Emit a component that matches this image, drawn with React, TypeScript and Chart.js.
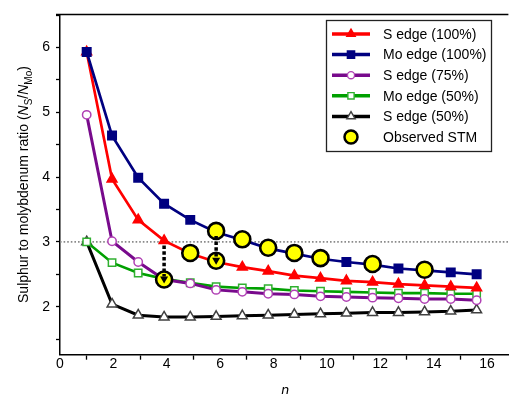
import React, { useEffect, useRef } from 'react';
import { Chart, registerables } from 'chart.js';

Chart.register(...registerables);

// n positions of the computed points
const N = [1, 1.95, 2.93, 3.9, 4.88, 5.85, 6.83, 7.8, 8.78, 9.76, 10.73, 11.71, 12.68, 13.66, 14.64, 15.61];

const S_EDGE_100 = [5.93, 3.97, 3.34, 3.02, 2.82, 2.69, 2.61, 2.55, 2.48, 2.44, 2.4, 2.38, 2.35, 2.33, 2.31, 2.29];
const MO_EDGE_100 = [5.93, 4.64, 3.99, 3.59, 3.34, 3.15, 3.03, 2.9, 2.82, 2.74, 2.69, 2.65, 2.59, 2.56, 2.53, 2.5];
const S_EDGE_75 = [4.96, 3.01, 2.69, 2.42, 2.36, 2.26, 2.23, 2.2, 2.19, 2.16, 2.15, 2.14, 2.13, 2.12, 2.12, 2.1];
const MO_EDGE_50 = [3.0, 2.68, 2.52, 2.43, 2.37, 2.31, 2.29, 2.28, 2.25, 2.24, 2.23, 2.22, 2.21, 2.21, 2.2, 2.2];
const S_EDGE_50 = [3.0, 2.04, 1.87, 1.84, 1.84, 1.85, 1.86, 1.87, 1.88, 1.89, 1.9, 1.91, 1.91, 1.92, 1.93, 1.95];

// Observed STM values
const STM_N = [3.9, 4.88, 5.85, 5.85, 6.83, 7.8, 8.78, 9.76, 11.71, 13.66];
const STM_R = [2.42, 2.83, 3.17, 2.71, 3.04, 2.91, 2.83, 2.75, 2.66, 2.57];

// Arrows: [n, from, to]
const ARROWS: [number, number, number][] = [
  [N[3], S_EDGE_100[3], STM_R[0]],
  [STM_N[2], STM_R[2], STM_R[3]],
];

const REF_RATIO = 3;
const X_MIN = 0;
const X_MAX = 16.8;
const Y_MIN = 1.26;
const Y_MAX = 6.51;
const X_TICKS = [0, 1, 2, 3, 4, 5, 6, 7, 8, 9, 10, 11, 12, 13, 14, 15, 16];
const Y_TICKS = [1.5, 2, 2.5, 3, 3.5, 4, 4.5, 5, 5.5, 6, 6.5];

const FONT = '"Liberation Sans", Arial, Helvetica, sans-serif';

type Series = {
  label: string;
  data: number[];
  line: string;
  stroke: string;
  fill: string;
  style: string;
  radius: number;
  width: number;
};

const SERIES: Series[] = [
  { label: 'S edge (100%)', data: S_EDGE_100, line: '#ff0000', stroke: '#ff0000', fill: '#ff0000', style: 'triangle', radius: 5.7, width: 2.7 },
  { label: 'Mo edge (100%)', data: MO_EDGE_100, line: '#000080', stroke: '#000080', fill: '#000080', style: 'rect', radius: 6, width: 2.7 },
  { label: 'S edge (75%)', data: S_EDGE_75, line: '#780a8c', stroke: '#b040b4', fill: '#ffffff', style: 'circle', radius: 4.2, width: 3 },
  { label: 'Mo edge (50%)', data: MO_EDGE_50, line: '#00a000', stroke: '#30b030', fill: '#ffffff', style: 'rect', radius: 5.2, width: 2.6 },
  { label: 'S edge (50%)', data: S_EDGE_50, line: '#000000', stroke: '#404040', fill: '#ffffff', style: 'triangle', radius: 5.7, width: 3 },
];

const SERIES_ORDER = [3, 2, 4, 5, 6];

function drawMarker(ctx: CanvasRenderingContext2D, style: string, x: number, y: number, r: number, fill: string, stroke: string, lw: number) {
  ctx.save();
  ctx.beginPath();
  if (style === 'triangle') {
    ctx.moveTo(x, y - r);
    ctx.lineTo(x + r * 0.866, y + r * 0.5);
    ctx.lineTo(x - r * 0.866, y + r * 0.5);
    ctx.closePath();
  } else if (style === 'rect') {
    const s = r * Math.SQRT1_2;
    ctx.rect(x - s, y - s, 2 * s, 2 * s);
  } else {
    ctx.arc(x, y, r, 0, Math.PI * 2);
  }
  ctx.fillStyle = fill;
  ctx.fill();
  ctx.lineWidth = lw;
  ctx.strokeStyle = stroke;
  ctx.stroke();
  ctx.restore();
}

const decorPlugin = {
  id: 'decor',
  afterDatasetsDraw(chart: any) {
    const ctx: CanvasRenderingContext2D = chart.ctx;
    const xs = chart.scales.x;
    const ys = chart.scales.y;
    const area = chart.chartArea;

    // top frame
    ctx.save();
    ctx.strokeStyle = '#000';
    ctx.lineWidth = 1.5;
    ctx.beginPath();
    ctx.moveTo(area.left - 4, area.top);
    ctx.lineTo(area.right, area.top);
    ctx.stroke();
    ctx.restore();

    // arrows
    for (const [n, from, to] of ARROWS) {
      const px = xs.getPixelForValue(n);
      const y0 = ys.getPixelForValue(from) + 5;
      const y1 = ys.getPixelForValue(to);
      ctx.save();
      ctx.strokeStyle = '#000';
      ctx.lineWidth = 3.5;
      ctx.setLineDash([3.5, 2.2]);
      ctx.beginPath();
      ctx.moveTo(px, y0);
      ctx.lineTo(px, y1 - 3);
      ctx.stroke();
      ctx.setLineDash([]);
      ctx.fillStyle = '#000';
      ctx.beginPath();
      ctx.moveTo(px - 4, y1 - 3);
      ctx.lineTo(px + 4, y1 - 3);
      ctx.lineTo(px, y1 + 4);
      ctx.closePath();
      ctx.fill();
      ctx.restore();
    }

    // legend
    const lx = 326.5, ly = 20.5, lw = 165, lh = 131;
    ctx.save();
    ctx.fillStyle = '#fff';
    ctx.fillRect(lx, ly, lw, lh);
    ctx.strokeStyle = '#222';
    ctx.lineWidth = 1.3;
    ctx.strokeRect(lx, ly, lw, lh);
    ctx.font = '14px ' + FONT;
    ctx.textBaseline = 'middle';
    ctx.textAlign = 'left';
    const rowY = (i: number) => 34 + i * 20.6;
    SERIES.forEach((s, i) => {
      const y = rowY(i);
      ctx.strokeStyle = s.line;
      ctx.lineWidth = 3.5;
      ctx.beginPath();
      ctx.moveTo(332, y);
      ctx.lineTo(370, y);
      ctx.stroke();
      drawMarker(ctx, s.style, 351, y, s.radius * 0.85, s.fill, s.stroke, 1.4);
      ctx.fillStyle = '#000';
      ctx.fillText(s.label, 383, y + 1);
    });
    const yy = rowY(5);
    drawMarker(ctx, 'circle', 351, yy, 6.5, '#ffff00', '#000', 2.5);
    ctx.fillStyle = '#000';
    ctx.fillText('Observed STM', 383, yy + 1);
    ctx.restore();

    // axis titles
    ctx.save();
    ctx.fillStyle = '#000';
    ctx.font = 'italic 14px ' + FONT;
    ctx.textAlign = 'center';
    ctx.textBaseline = 'alphabetic';
    ctx.fillText('n', (area.left + area.right) / 2 + 1, 395);
    ctx.restore();

    ctx.save();
    ctx.translate(28, (area.top + area.bottom) / 2);
    ctx.rotate(-Math.PI / 2);
    ctx.fillStyle = '#000';
    ctx.textBaseline = 'alphabetic';
    ctx.textAlign = 'left';
    const parts: [string, string, number][] = [
      ['Sulphur to molybdenum ratio (', '14px ' + FONT, 0],
      ['N', 'italic 14px ' + FONT, 0],
      ['S', '10px ' + FONT, 3.5],
      ['/', '14px ' + FONT, 0],
      ['N', 'italic 14px ' + FONT, 0],
      ['Mo', '10px ' + FONT, 3.5],
      [')', '14px ' + FONT, 0],
    ];
    let total = 0;
    for (const [t, f] of parts) {
      ctx.font = f;
      total += ctx.measureText(t).width;
    }
    let cx = -total / 2;
    for (const [t, f, dy] of parts) {
      ctx.font = f;
      ctx.fillText(t, cx, dy);
      cx += ctx.measureText(t).width;
    }
    ctx.restore();
  },
};

export default function App() {
  const ref = useRef<HTMLCanvasElement | null>(null);

  useEffect(() => {
    if (!ref.current) return;
    const lineSets = SERIES.map((s, i) => ({
      label: s.label,
      data: N.map((n, k) => ({ x: n, y: s.data[k] })),
      showLine: true,
      borderColor: s.line,
      borderWidth: s.width,
      pointStyle: s.style,
      pointRadius: s.radius,
      pointBackgroundColor: s.fill,
      pointBorderColor: s.stroke,
      pointBorderWidth: 1.5,
      order: SERIES_ORDER[i],
    }));
    const chart = new Chart(ref.current, {
      type: 'scatter',
      data: {
        datasets: [
          {
            label: 'ref',
            data: [{ x: X_MIN, y: REF_RATIO }, { x: X_MAX, y: REF_RATIO }],
            showLine: true,
            borderColor: '#8a8a8a',
            borderWidth: 1.6,
            borderDash: [1.6, 2],
            pointRadius: 0,
            order: 7,
          },
          ...lineSets,
          {
            label: 'Observed STM',
            data: STM_N.map((n, k) => ({ x: n, y: STM_R[k] })),
            showLine: false,
            pointStyle: 'circle',
            pointRadius: 8,
            pointBackgroundColor: '#ffff00',
            pointBorderColor: '#000',
            pointBorderWidth: 2.6,
            order: 1,
          },
        ] as any,
      },
      options: {
        animation: false,
        responsive: false,
        devicePixelRatio: 1,
        layout: { padding: { top: 9, right: 0, left: 0, bottom: 0 } },
        plugins: { legend: { display: false }, tooltip: { enabled: false }, title: { display: false } },
        scales: {
          x: {
            type: 'linear',
            min: X_MIN,
            max: X_MAX,
            afterBuildTicks: (scale: any) => {
              scale.ticks = X_TICKS.map((v) => ({ value: v }));
            },
            afterFit: (scale: any) => {
              scale.height = 39.3;
            },
            grid: {
              drawOnChartArea: false,
              drawTicks: true,
              tickLength: 5,
              color: '#000',
              tickColor: (c: any) => (c.tick && c.tick.value % 2 === 0 ? 'rgba(0,0,0,0)' : '#000'),
              tickWidth: 1.3,
            },
            border: { display: true, color: '#000', width: 1.5 },
            ticks: {
              autoSkip: false,
              maxRotation: 0,
              padding: -4,
              color: '#000',
              font: { family: FONT, size: 14 },
              callback: (v: any) => (Number(v) % 2 === 0 ? String(v) : ''),
            },
          },
          y: {
            type: 'linear',
            min: Y_MIN,
            max: Y_MAX,
            afterBuildTicks: (scale: any) => {
              scale.ticks = Y_TICKS.map((v) => ({ value: v }));
            },
            afterFit: (scale: any) => {
              scale.width = 60;
            },
            grid: { drawOnChartArea: false, drawTicks: true, tickLength: 4, color: '#000', tickWidth: 1.3 },
            border: { display: true, color: '#000', width: 1.5 },
            ticks: {
              autoSkip: false,
              padding: 6,
              color: '#000',
              font: { family: FONT, size: 14 },
              callback: (v: any) => (Number.isInteger(Number(v)) && Number(v) <= 6 ? String(v) : ''),
            },
          },
        },
      } as any,
      plugins: [decorPlugin],
    });
    return () => chart.destroy();
  }, []);

  return (
    <div style={{ position: 'absolute', left: 0, top: 0, width: 519, height: 394, background: '#fff' }}>
      <canvas ref={ref} width={519} height={394} style={{ display: 'block', width: 519, height: 394 }} />
    </div>
  );
}
